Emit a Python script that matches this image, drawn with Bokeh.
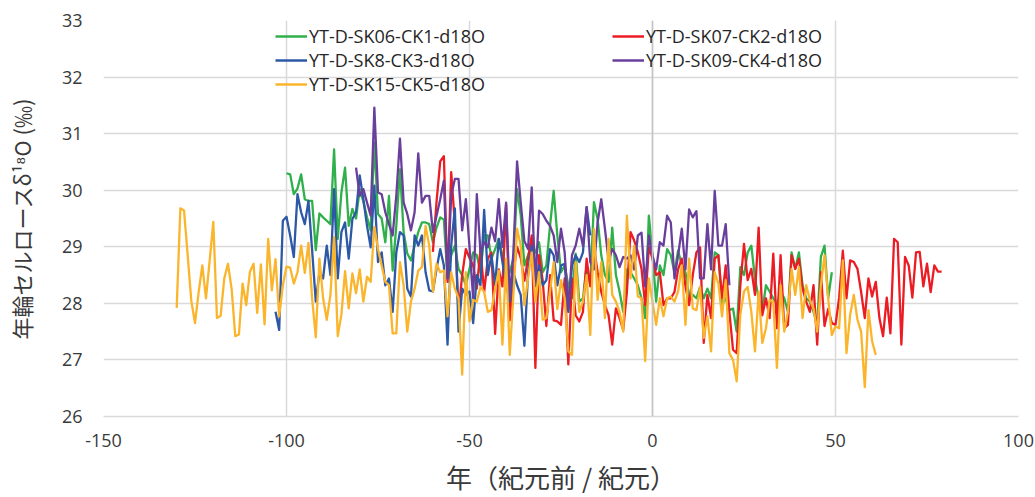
import numpy as np
from bokeh.plotting import figure
from bokeh.models import Legend, LegendItem, FixedTicker, Span
from bokeh.embed import file_html
from bokeh.resources import INLINE

# Annual tree-ring cellulose d18O records (permil), one value per year from the start year
sk06_start = -100
sk06_d18o = [
    30.30, 30.28, 29.93, 30.03, 30.28, 29.84, 29.81, 29.81, 28.94, 29.59,
    29.52, 29.46, 29.40, 30.72, 29.14, 29.96, 30.40, 29.37, 29.67, 29.50,
    30.02, 29.80, 29.52, 29.29, 30.84, 29.58, 29.50, 29.08, 29.90, 28.58,
    29.37, 30.37, 29.26, 28.88, 28.76, 29.02, 29.26, 29.43, 29.43, 29.40,
    29.08, 29.34, 29.52, 29.48, 28.44, 28.85, 29.02, 28.61, 28.50, 28.32,
    28.61, 28.90, 28.85, 28.55, 29.20, 29.20, 28.79, 28.96, 29.14, 28.85,
    28.44, 28.55, 28.79, 30.02, 29.55, 28.67, 28.85, 29.02, 28.90, 29.08,
    28.55, 28.67, 29.37, 29.99, 29.20, 28.55, 28.67, 28.32, 28.09, 28.88,
    28.03, 28.09, 28.67, 28.32, 29.79, 29.49, 28.85, 28.50, 28.38, 29.34,
    28.50, 28.21, 27.85, 28.60, 28.55, 28.44, 28.32, 28.09, 27.74, 29.55,
    28.85, 28.03, 28.67, 28.50, 28.96, 28.85, 28.55, 28.93, 28.67, 28.55,
    28.12, 28.15, 28.09, 28.29, 28.09, 28.26, 28.09, 28.90, 28.85, 27.97,
    28.09, 27.88, 27.91, 27.50, 28.64, 28.50, 28.90, 29.02, 28.44, 28.09,
    27.85, 28.32, 28.21, 28.09, 27.97, 28.21, 28.09, 27.85, 28.90, 28.61,
    28.90, 28.32, 28.09, 28.03, 27.85, 27.62, 28.82, 29.02, 28.09, 28.55,
]

sk07_start = -60
sk07_d18o = [
    28.91, 29.80, 30.51, 30.60, 28.38, 30.32, 29.40, 27.85, 28.50, 28.96,
    28.80, 28.67, 28.26, 28.96, 28.20, 28.79, 28.90, 27.46, 28.60, 28.30,
    29.75, 27.70, 28.55, 29.00, 28.80, 28.40, 28.80, 29.20, 26.86, 28.85,
    28.40, 27.60, 28.50, 27.70, 27.68, 27.62, 28.44, 26.92, 28.44, 27.79,
    27.68, 27.85, 28.79, 28.30, 29.00, 28.55, 28.20, 27.97, 27.79, 27.27,
    27.91, 27.74, 27.53, 28.20, 29.26, 29.11, 28.90, 28.61, 27.97, 29.00,
    28.79, 28.50, 28.55, 27.97, 28.09, 28.09, 28.20, 28.60, 28.79, 28.30,
    27.97, 28.50, 28.90, 28.99, 27.30, 28.15, 27.74, 28.79, 28.85, 28.09,
    28.67, 27.85, 27.18, 27.12, 28.32, 29.05, 28.41, 28.61, 28.15, 29.34,
    27.79, 28.09, 27.74, 28.88, 27.56, 28.85, 27.56, 27.62, 28.85, 28.61,
    28.79, 28.26, 28.03, 27.85, 28.32, 27.27, 28.55, 27.60, 27.90, 27.65,
    27.62, 28.10, 28.93, 28.09, 28.76, 28.73, 28.61, 28.20, 27.74, 28.44,
    28.12, 28.38, 27.74, 27.42, 28.10, 27.47, 29.14, 29.08, 27.27, 28.82,
    28.67, 28.10, 28.90, 28.91, 28.30, 28.70, 28.20, 28.67, 28.56, 28.56,
]

sk8_start = -103
sk8_d18o = [
    27.85, 27.53, 29.46, 29.53, 29.20, 28.82, 29.93, 29.61, 29.40, 29.81,
    28.94, 28.03, 28.55, 28.44, 29.02, 28.50, 30.02, 28.44, 29.26, 29.43,
    28.79, 29.49, 29.61, 30.26, 29.84, 29.37, 28.99, 30.08, 28.73, 28.90,
    28.32, 28.44, 27.85, 28.90, 29.26, 29.20, 28.26, 28.12, 29.20, 29.02,
    29.20, 28.55, 28.23, 28.21, 28.61, 28.96, 28.67, 27.27, 29.02, 29.68,
    27.50, 28.26, 28.15, 28.21, 27.65, 28.50, 28.32, 29.65, 28.50, 28.85,
    28.32, 29.14, 28.73, 28.32, 28.03, 28.55, 28.32, 28.15, 27.25, 28.55,
    29.02, 28.32, 28.67, 28.32, 28.41, 28.96, 28.85, 28.32, 28.67, 28.70,
    27.85, 28.67, 28.85, 28.73, 28.90, 29.70, 29.20,
]

sk09_start = -81
sk09_d18o = [
    30.40, 29.90, 30.02, 29.78, 29.55, 31.46, 29.96, 29.93, 29.61, 29.40,
    29.20, 29.90, 30.91, 29.78, 29.58, 29.29, 29.61, 30.65, 29.78, 29.90,
    29.90, 29.26, 29.55, 29.84, 30.17, 28.44, 29.90, 30.20, 30.20, 29.29,
    29.84, 29.00, 28.09, 29.93, 28.90, 29.08, 28.99, 29.34, 29.10, 29.84,
    29.00, 29.78, 28.09, 28.90, 30.51, 29.78, 29.10, 28.96, 30.05, 28.30,
    29.64, 29.58, 29.46, 29.37, 29.20, 28.73, 29.32, 28.90, 27.90, 28.85,
    29.02, 29.32, 29.02, 29.70, 28.73, 28.60, 29.43, 29.84, 29.32, 28.76,
    28.96, 28.85, 28.64, 28.82, 28.79, 28.85, 28.60, 29.20, 29.25, 28.30,
    29.20, 28.85, 28.60, 29.08, 29.02, 29.55, 29.43, 28.44, 28.85, 29.32,
    28.60, 29.66, 29.52, 29.63, 28.44, 28.44, 29.40, 28.60, 29.99, 29.02,
    29.02, 29.40, 28.32,
]

sk15_start = -130
sk15_d18o = [
    27.92, 29.68, 29.64, 28.85, 28.04, 27.65, 28.20, 28.67, 28.09, 28.75,
    29.44, 27.74, 27.78, 28.44, 28.70, 28.26, 27.42, 27.45, 28.35, 27.97,
    28.56, 28.70, 27.83, 28.69, 27.63, 29.14, 28.23, 28.78, 27.77, 28.32,
    28.65, 28.63, 28.35, 28.55, 29.02, 28.54, 29.07, 28.09, 27.40, 28.79,
    28.09, 27.71, 28.15, 29.17, 27.42, 27.80, 28.57, 27.91, 28.53, 28.18,
    28.60, 28.03, 28.47, 28.38, 29.35, 28.96, 28.67, 28.38, 28.32, 27.47,
    27.47, 28.73, 28.32, 27.50, 28.03, 28.26, 28.58, 28.64, 29.37, 29.02,
    28.21, 28.70, 28.55, 28.58, 27.77, 28.55, 28.26, 28.09, 26.74, 28.55,
    27.68, 28.06, 28.03, 28.29, 28.20, 27.85, 27.88, 28.26, 28.58, 27.27,
    28.79, 27.09, 28.15, 29.32, 29.02, 27.97, 28.44, 28.90, 28.03, 28.55,
    27.71, 27.74, 28.21, 28.73, 27.90, 28.41, 28.09, 27.15, 27.09, 28.73,
    27.85, 28.03, 28.50, 27.44, 29.32, 28.06, 28.73, 27.74, 29.14, 28.15,
    28.03, 27.85, 27.50, 29.55, 28.44, 29.02, 28.12, 28.09, 26.98, 28.44,
    28.03, 27.62, 28.09, 27.77, 28.09, 28.12, 28.03, 28.21, 28.67, 27.62,
    28.79, 27.91, 27.88, 28.29, 27.39, 27.77, 27.15, 28.55, 28.35, 27.77,
    28.41, 27.12, 27.00, 26.62, 27.80, 28.21, 28.29, 27.85, 27.15, 28.21,
    27.30, 27.56, 28.06, 28.03, 26.86, 28.32, 27.50, 27.85, 28.61, 28.15,
    28.64, 27.74, 28.32, 28.06, 27.91, 27.50, 28.32, 28.85, 28.09, 27.44,
    27.59, 27.56, 28.76, 27.12, 27.80, 28.15, 27.71, 27.50, 26.52, 27.88,
    27.33, 27.09,
]

series_names = [
    "YT-D-SK06-CK1-d18O",
    "YT-D-SK07-CK2-d18O",
    "YT-D-SK8-CK3-d18O",
    "YT-D-SK09-CK4-d18O",
    "YT-D-SK15-CK5-d18O",
]
series_colors = ["#2fb04a", "#ec1c24", "#2c58a6", "#6a3f9c", "#fbb52c"]

x_ticks = [-150, -100, -50, 0, 50, 100]
x_tick_labels = ["-150", "-100", "-50", "0", "50", "100"]
y_ticks = [26, 27, 28, 29, 30, 31, 32, 33]
y_tick_labels = ["26", "27", "28", "29", "30", "31", "32", "33"]

x_title = "年（紀元前 / 紀元）"
y_title = "年輪セルロースδ¹⁸O (‰)"

TEXT = "#3a3a3a"
GRID = "#d9d9d9"

p = figure(
    width=1035, height=497,
    x_range=(-150, 100), y_range=(26, 33),
    output_backend="svg", toolbar_location=None,
    min_border_left=103, min_border_right=17,
    min_border_top=20, min_border_bottom=78,
)
p.outline_line_color = None
p.background_fill_color = "white"
p.border_fill_color = "white"

# grid
p.xgrid.ticker = FixedTicker(ticks=x_ticks)
p.ygrid.ticker = FixedTicker(ticks=y_ticks)
for g in (p.xgrid, p.ygrid):
    g.grid_line_color = GRID
    g.grid_line_width = 1.5

# axes
p.xaxis.ticker = FixedTicker(ticks=x_ticks)
p.yaxis.ticker = FixedTicker(ticks=y_ticks)
p.xaxis.major_label_overrides = {t: s for t, s in zip(x_ticks, x_tick_labels)}
p.yaxis.major_label_overrides = {t: s for t, s in zip(y_ticks, y_tick_labels)}
for ax in (p.xaxis, p.yaxis):
    ax.major_tick_in = 0
    ax.major_tick_out = 0
    ax.minor_tick_in = 0
    ax.minor_tick_out = 0
    ax.major_label_text_font = "Open Sans"
    ax.major_label_text_font_size = "18px"
    ax.major_label_text_color = TEXT
    ax.axis_label_text_font = "Noto Sans CJK JP"
    ax.axis_label_text_font_style = "normal"
    ax.axis_label_text_color = TEXT
p.xaxis.axis_line_color = GRID
p.xaxis.axis_line_width = 1.5
p.yaxis.axis_line_color = None
p.xaxis.major_label_standoff = 17
p.yaxis.major_label_standoff = 21
p.xaxis.axis_label = x_title
p.yaxis.axis_label = y_title
p.xaxis.axis_label_text_font_size = "26px"
p.yaxis.axis_label_text_font_size = "22px"
p.xaxis.axis_label_standoff = 8
p.yaxis.axis_label_standoff = 22

# vertical axis line crossing at year 0
p.add_layout(Span(location=0, dimension="height", line_color="#c4c4c4", line_width=1.5))

starts = [sk06_start, sk07_start, sk8_start, sk09_start, sk15_start]
values = [sk06_d18o, sk07_d18o, sk8_d18o, sk09_d18o, sk15_d18o]
renderers = {}
for i in range(len(values)):
    vals = values[i]
    years = np.arange(starts[i], starts[i] + len(vals))
    renderers[i] = p.line(years, vals, line_color=series_colors[i], line_width=2.3,
                          line_join="round")


def make_legend(idx, loc):
    return Legend(
        items=[LegendItem(label=series_names[i], renderers=[renderers[i]]) for i in idx],
        location=loc, orientation="vertical",
        border_line_color=None, background_fill_alpha=0,
        padding=0, margin=0, spacing=0,
        glyph_width=32, glyph_height=24, label_height=24, label_standoff=2,
        label_text_font="Open Sans", label_text_font_size="18px",
        label_text_color="#262626",
    )


p.add_layout(make_legend([0, 2, 4], (172, 320)))
p.add_layout(make_legend([1, 3], (509, 344)))

open("out.html", "w").write(file_html(p, INLINE))
